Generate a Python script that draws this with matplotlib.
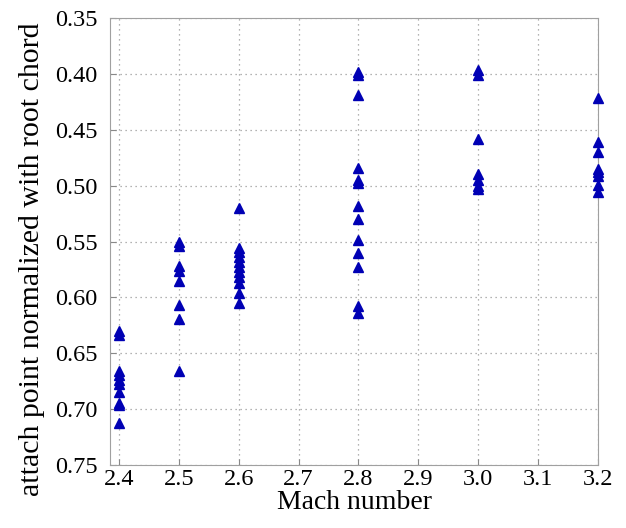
import matplotlib
matplotlib.use("Agg")
import matplotlib.pyplot as plt

# attach point data, per Mach number
mach = [2.4, 2.5, 2.6, 2.8, 3.0, 3.2]
attach = [
    [0.630, 0.634, 0.666, 0.669, 0.674, 0.677, 0.685, 0.694, 0.696, 0.712],
    [0.550, 0.554, 0.572, 0.576, 0.585, 0.607, 0.619, 0.666],
    [0.520, 0.556, 0.559, 0.564, 0.568, 0.573, 0.577, 0.582, 0.587, 0.596, 0.605],
    [0.398, 0.401, 0.419, 0.484, 0.495, 0.498, 0.518, 0.530, 0.549, 0.560, 0.573, 0.608, 0.614],
    [0.397, 0.401, 0.458, 0.490, 0.495, 0.500, 0.503],
    [0.422, 0.461, 0.470, 0.485, 0.488, 0.491, 0.499, 0.506],
]
x_ticks = [2.4, 2.5, 2.6, 2.7, 2.8, 2.9, 3.0, 3.1, 3.2]
y_ticks = [0.35, 0.40, 0.45, 0.50, 0.55, 0.60, 0.65, 0.70, 0.75]

plt.rcParams["font.family"] = ["Liberation Serif", "DejaVu Serif"]

fig = plt.figure(figsize=(6.26, 5.28), dpi=100)
ax = fig.add_axes([0.176, 0.119, 0.779, 0.847])

for m, vals in zip(mach, attach):
    ax.plot([m] * len(vals), vals, linestyle="none", marker="^", markersize=7,
            color="#0000b4", markeredgecolor="#0000b4", clip_on=False, zorder=3)

ax.set_xlim(2.385, 3.2)
ax.set_ylim(0.75, 0.35)
ax.set_xticks(x_ticks)
ax.set_xticklabels([f"{t:.1f}" for t in x_ticks])
ax.set_yticks(y_ticks)
ax.set_yticklabels([f"{t:.2f}" for t in y_ticks])
ax.grid(True, linestyle=(0, (1, 3)), color="#9a9a9a", linewidth=0.9)
ax.tick_params(direction="in", length=4, color="#888888", labelsize=17.5)
ax.tick_params(axis="x", pad=3)
ax.tick_params(axis="y", pad=9)
for s in ax.spines.values():
    s.set_color("#a0a0a0")

ax.set_xlabel("Mach number", fontsize=20, labelpad=0)
ax.set_ylabel("attach point normalized with root chord", fontsize=21.5)
ax.yaxis.set_label_coords(-0.133, 0.46)

fig.savefig("out.png", dpi=100)
